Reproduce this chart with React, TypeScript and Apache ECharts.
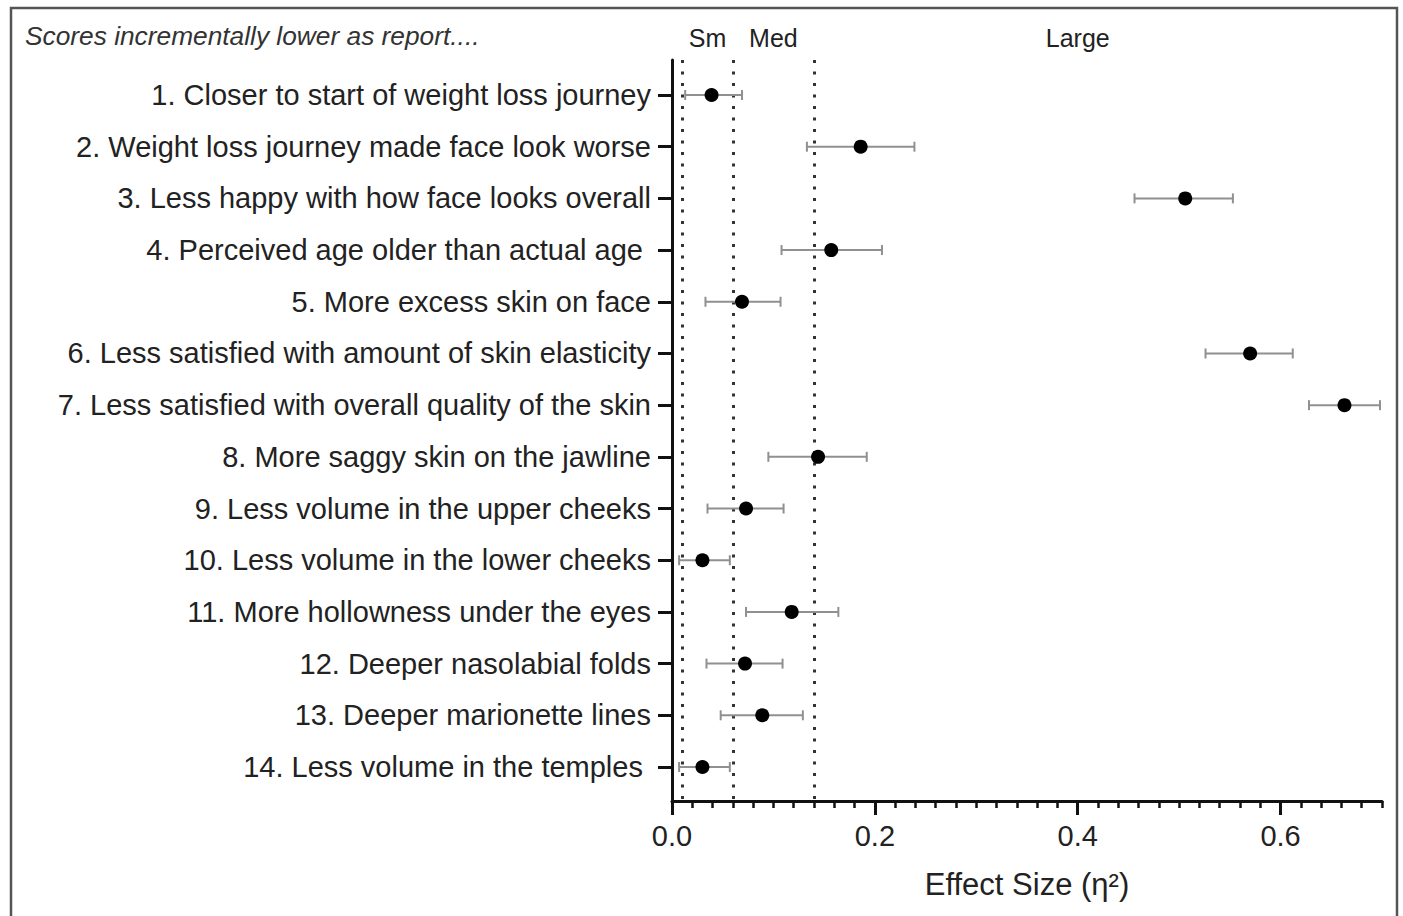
import React, { useEffect, useRef } from "react";
import * as echarts from "echarts";

const categories = [
  "1. Closer to start of weight loss journey",
  "2. Weight loss journey made face look worse",
  "3. Less happy with how face looks overall",
  "4. Perceived age older than actual age ",
  "5. More excess skin on face",
  "6. Less satisfied with amount of skin elasticity",
  "7. Less satisfied with overall quality of the skin",
  "8. More saggy skin on the jawline",
  "9. Less volume in the upper cheeks",
  "10. Less volume in the lower cheeks",
  "11. More hollowness under the eyes",
  "12. Deeper nasolabial folds",
  "13. Deeper marionette lines",
  "14. Less volume in the temples ",
];
const effect = [0.039, 0.186, 0.506, 0.157, 0.069, 0.570, 0.663, 0.144, 0.073, 0.030, 0.118, 0.072, 0.089, 0.030];
const ciLow = [0.013, 0.133, 0.456, 0.108, 0.033, 0.526, 0.628, 0.095, 0.035, 0.007, 0.073, 0.034, 0.048, 0.007];
const ciHigh = [0.069, 0.239, 0.553, 0.207, 0.107, 0.612, 0.698, 0.192, 0.110, 0.057, 0.164, 0.109, 0.129, 0.057];
const thresholds = [0.01, 0.06, 0.14];
const thresholdLabelPos = [0.035, 0.1, 0.4];
const thresholdLabels = ["Sm", "Med", "Large"];
const xMajorTicks = [0, 0.2, 0.4, 0.6];
const xMinorStep = 0.02;
const titleText = "Scores incrementally lower as report....";
const xAxisName = "Effect Size (η²)";

const FONT = "'Liberation Sans', Arial, Helvetica, sans-serif";

export default function App() {
  const ref = useRef<HTMLDivElement>(null);
  useEffect(() => {
    if (!ref.current) return;
    const chart = echarts.init(ref.current, undefined, { renderer: "svg" });
    const rowIdx = categories.map((_, i) => i + 1);
    const minorTicks: number[] = [];
    for (let k = 0; k <= 35; k++) minorTicks.push(+(k * xMinorStep).toFixed(2));
    const gridPos = { left: 672, right: 21, top: 60, bottom: 115 };
    chart.setOption({
      animation: false,
      backgroundColor: "#ffffff",
      grid: [
        { ...gridPos, containLabel: false },
        { ...gridPos, containLabel: false },
      ],
      graphic: [
        {
          type: "polyline",
          shape: { points: [[11, 930], [11, 8], [1397, 8], [1397, 930]] },
          style: { stroke: "#555", lineWidth: 2.5, fill: "none" },
          silent: true,
        },
        {
          type: "text",
          left: 25,
          top: 23,
          style: {
            text: titleText,
            font: `italic 26.3px ${FONT}`,
            fill: "#333",
          },
        },
      ],
      xAxis: [
        {
          type: "value",
          gridIndex: 0,
          position: "bottom",
          min: 0,
          max: 0.7,
          splitLine: { show: false },
          axisLine: { show: true, onZero: false, lineStyle: { color: "#111", width: 3 } },
          axisTick: {
            show: true,
            customValues: xMajorTicks,
            length: 14,
            lineStyle: { color: "#111", width: 3 },
          },
          axisLabel: {
            customValues: xMajorTicks,
            formatter: (v: number) => v.toFixed(1),
            fontFamily: FONT,
            fontSize: 29,
            color: "#222",
            margin: 20,
          },
          name: xAxisName,
          nameLocation: "middle",
          nameGap: 68,
          nameTextStyle: { fontFamily: FONT, fontSize: 31, color: "#222" },
        },
        {
          type: "value",
          gridIndex: 0,
          position: "top",
          min: 0,
          max: 0.7,
          splitLine: { show: false },
          axisLine: { show: false },
          axisTick: { show: false },
          axisLabel: {
            customValues: thresholdLabelPos,
            formatter: (v: number) => {
              const i = thresholdLabelPos.findIndex((p) => Math.abs(p - v) < 1e-6);
              return i >= 0 ? thresholdLabels[i] : "";
            },
            fontFamily: FONT,
            fontSize: 25,
            color: "#222",
            margin: 10,
          },
        },
        {
          type: "value",
          gridIndex: 1,
          position: "bottom",
          min: 0,
          max: 0.7,
          splitLine: { show: false },
          axisLine: { show: false },
          axisTick: {
            show: true,
            customValues: minorTicks,
            length: 7,
            lineStyle: { color: "#111", width: 2.5 },
          },
          axisLabel: { show: false },
        },
      ],
      yAxis: [
        {
          type: "value",
          gridIndex: 0,
          inverse: true,
          min: 0.323,
          max: 14.658,
          splitLine: { show: false },
          axisLine: { show: true, onZero: false, lineStyle: { color: "#111", width: 3 } },
          axisTick: {
            show: true,
            customValues: rowIdx,
            length: 14,
            lineStyle: { color: "#111", width: 3 },
          },
          axisLabel: {
            customValues: rowIdx,
            formatter: (v: number) => categories[Math.round(v) - 1] ?? "",
            fontFamily: FONT,
            fontSize: 29,
            color: "#222",
            margin: 21,
          },
        },
        {
          type: "value",
          gridIndex: 1,
          show: false,
          min: 0.323,
          max: 14.658,
          inverse: true,
        },
      ],
      series: [
        {
          type: "custom",
          xAxisIndex: 0,
          yAxisIndex: 0,
          silent: true,
          encode: { x: [0, 1], y: 2 },
          data: categories.map((_, i) => [ciLow[i], ciHigh[i], i + 1]),
          renderItem: (params: any, api: any) => {
            const lo = api.coord([api.value(0), api.value(2)]);
            const hi = api.coord([api.value(1), api.value(2)]);
            const cap = 5;
            const style = { stroke: "#909090", lineWidth: 2 };
            return {
              type: "group",
              children: [
                { type: "line", shape: { x1: lo[0], y1: lo[1], x2: hi[0], y2: hi[1] }, style },
                { type: "line", shape: { x1: lo[0], y1: lo[1] - cap, x2: lo[0], y2: lo[1] + cap }, style },
                { type: "line", shape: { x1: hi[0], y1: hi[1] - cap, x2: hi[0], y2: hi[1] + cap }, style },
              ],
            };
          },
          z: 3,
        },
        {
          type: "scatter",
          xAxisIndex: 0,
          yAxisIndex: 0,
          symbol: "circle",
          symbolSize: 14,
          itemStyle: { color: "#000", opacity: 1 },
          data: effect.map((v, i) => [v, i + 1]),
          z: 4,
          markLine: {
            silent: true,
            symbol: "none",
            label: { show: false },
            lineStyle: { color: "#333", width: 3, type: [3, 8.5], cap: "butt" },
            data: thresholds.map((t) => ({ xAxis: t })),
            z: 2,
          },
        },
      ],
    });
    return () => chart.dispose();
  }, []);
  return (
    <div
      ref={ref}
      style={{ position: "fixed", left: 0, top: 0, width: 1403, height: 916, background: "#fff" }}
    />
  );
}
